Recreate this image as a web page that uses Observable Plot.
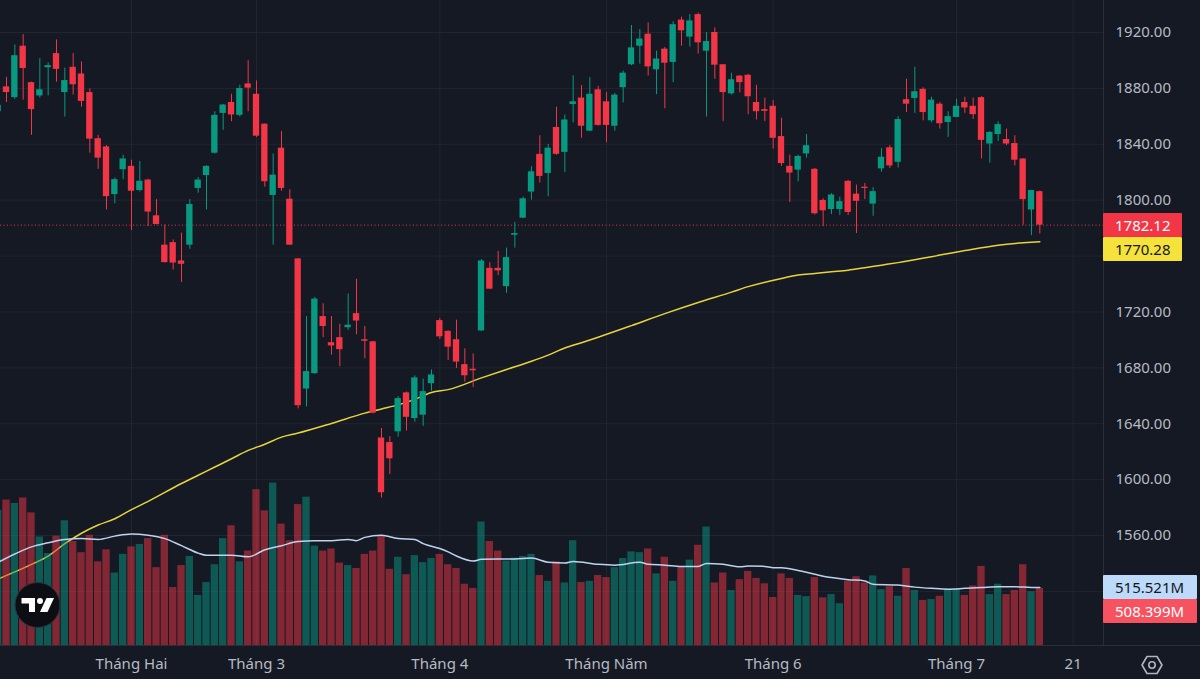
<!DOCTYPE html>
<html>
<head>
<meta charset="utf-8">
<script src="https://cdn.jsdelivr.net/npm/d3@7"></script>
<script src="https://cdn.jsdelivr.net/npm/@observablehq/plot@0.6"></script>
<style>
  html, body { margin: 0; padding: 0; background: #151924; }
  #chart { position: relative; width: 1200px; height: 679px; overflow: hidden; background: #151924; font-family: "Noto Sans", "Open Sans", sans-serif; }
  #chart > svg, #chart > .layer { position: absolute; left: 0; top: 0; }
  .sep-h { position: absolute; left: 0; top: 645px; width: 1200px; height: 1px; background: #2a2e39; }
  .sep-v { position: absolute; left: 1103px; top: 0; width: 1px; height: 645px; background: #2a2e39; }
  .tag { position: absolute; left: 1103px; height: 24px; line-height: 24px; font-size: 15px; padding-left: 12px; box-sizing: border-box; border-radius: 1px; }
</style>
</head>
<body>
<div id="chart"></div>
<script>
// Daily OHLC candles (trading-day index 0..125) and traded volume in millions.
const open = [1863.3,1881.1,1873.4,1910.2,1884.1,1874.6,1894.8,1904.9,1877.0,1895.1,1890.3,1877.0,1844.0,1838.1,1804.0,1821.8,1824.2,1806.9,1814.4,1788.8,
  1767.8,1769.6,1756.5,1767.8,1808.4,1817.6,1833.6,1862.1,1869.9,1860.7,1883.2,1875.8,1854.4,1803.4,1837.2,1800.7,1758.0,1664.8,1675.8,1716.7,
  1698.0,1701.6,1708.7,1718.8,1700.1,1698.6,1629.8,1626.5,1634.2,1662.1,1643.7,1646.1,1668.7,1713.8,1706.1,1700.1,1682.3,1679.0,1706.4,1751.2,
  1751.2,1738.1,1774.9,1787.1,1805.8,1832.8,1819.1,1852.0,1834.2,1868.4,1873.1,1849.4,1879.0,1870.4,1852.9,1880.5,1896.9,1910.2,1918.8,1893.3,
  1908.1,1898.6,1928.9,1916.7,1932.8,1906.6,1920.0,1896.9,1876.1,1888.8,1889.4,1869.9,1864.8,1867.2,1845.5,1824.2,1821.5,1833.1,1822.1,1799.8,
  1793.3,1793.3,1813.5,1804.3,1809.3,1797.2,1822.4,1837.5,1827.1,1871.9,1872.8,1879.3,1856.8,1868.7,1855.6,1859.2,1869.9,1867.2,1873.4,1840.2,
  1847.0,1843.4,1840.5,1829.5,1793.0,1806.1];
const high = [1869.0,1888.0,1911.1,1918.5,1884.5,1901.3,1898.3,1914.7,1894.5,1904.9,1898.9,1879.6,1846.4,1839.0,1815.8,1832.2,1828.6,1827.7,1815.0,1800.4,
  1782.3,1771.6,1776.4,1800.4,1816.1,1824.5,1863.3,1868.5,1875.8,1882.3,1899.8,1885.3,1854.5,1833.1,1849.1,1807.5,1758.2,1716.7,1730.4,1725.9,
  1716.7,1711.2,1732.8,1743.4,1709.6,1699.0,1636.6,1630.7,1659.5,1662.7,1674.3,1671.9,1678.5,1715.3,1706.5,1714.1,1693.6,1690.0,1757.4,1755.3,
  1763.3,1765.7,1784.1,1802.2,1823.9,1846.1,1839.9,1866.6,1860.9,1889.1,1882.0,1887.7,1881.4,1877.0,1876.4,1892.4,1925.0,1922.1,1926.8,1906.6,
  1909.3,1927.7,1931.0,1932.8,1933.9,1920.0,1923.3,1897.0,1890.9,1889.0,1890.0,1882.3,1873.1,1871.3,1858.6,1832.2,1832.2,1847.0,1822.7,1801.0,
  1804.6,1802.2,1814.1,1810.8,1812.0,1809.0,1836.9,1839.0,1859.8,1886.5,1895.1,1880.5,1873.7,1869.9,1863.3,1872.2,1873.7,1873.1,1874.0,1849.1,
  1856.2,1850.9,1846.1,1829.6,1807.0,1806.5];
const low = [1862.0,1869.9,1872.2,1871.6,1846.4,1873.1,1874.6,1884.4,1859.5,1875.2,1866.6,1833.6,1822.1,1793.0,1797.4,1814.7,1778.2,1805.8,1781.1,1782.3,
  1755.0,1750.0,1741.1,1764.8,1804.9,1793.0,1833.0,1850.0,1856.2,1859.5,1863.3,1844.9,1809.3,1767.8,1806.4,1767.5,1650.6,1652.0,1675.5,1701.6,
  1689.1,1680.8,1706.9,1703.7,1686.5,1647.0,1586.8,1603.7,1630.4,1634.8,1641.1,1638.1,1663.3,1700.4,1685.3,1679.6,1669.8,1666.0,1706.0,1736.0,
  1746.1,1733.4,1765.7,1787.0,1800.1,1812.3,1802.5,1832.2,1819.7,1855.3,1844.3,1849.0,1853.0,1841.1,1849.4,1869.6,1896.3,1897.4,1888.8,1875.5,
  1865.4,1884.1,1910.2,1909.6,1904.6,1859.5,1886.5,1856.2,1875.2,1876.7,1861.2,1857.4,1856.2,1836.6,1824.2,1798.3,1813.2,1830.1,1789.4,1781.1,
  1789.7,1789.1,1789.1,1776.1,1800.4,1788.5,1820.0,1822.7,1823.0,1862.7,1862.1,1856.8,1855.3,1850.9,1844.9,1859.0,1862.1,1857.7,1829.5,1826.5,
  1842.0,1839.0,1824.5,1782.0,1774.6,1775.8];
const close = [1867.8,1877.0,1903.4,1894.2,1864.8,1879.0,1896.3,1893.6,1885.6,1882.6,1870.7,1843.7,1830.1,1802.5,1814.7,1829.5,1806.4,1813.5,1791.5,1782.6,
  1755.3,1755.0,1754.1,1796.9,1814.4,1824.2,1860.7,1868.1,1861.0,1879.9,1880.2,1845.8,1813.2,1817.9,1808.4,1767.8,1652.9,1677.3,1729.2,1709.6,
  1695.7,1693.0,1710.5,1713.5,1699.0,1647.6,1590.6,1614.9,1658.0,1644.6,1672.8,1663.0,1674.9,1702.2,1694.8,1684.1,1674.3,1677.9,1756.5,1736.3,
  1749.4,1758.9,1776.1,1801.0,1820.3,1817.0,1837.2,1832.8,1857.4,1870.4,1852.9,1875.8,1853.5,1853.5,1875.2,1890.9,1909.0,1915.3,1895.4,1901.0,
  1898.0,1925.6,1921.2,1928.3,1912.6,1913.5,1896.6,1877.0,1886.2,1884.1,1874.0,1863.3,1863.6,1844.3,1826.2,1819.4,1831.3,1839.0,1790.3,1792.4,
  1803.7,1798.9,1791.2,1799.2,1808.4,1806.1,1830.7,1824.5,1857.7,1868.7,1877.6,1862.7,1871.6,1854.7,1859.8,1867.2,1866.0,1861.2,1842.8,1848.5,
  1854.1,1840.2,1828.6,1800.4,1806.9,1782.12];
const volume = [1194.5,1285.9,1256.6,1304.1,1172.6,960.7,814.6,968.0,1103.2,920.6,821.9,975.4,741.6,847.5,642.9,807.3,873.1,895.0,946.1,690.4,
  975.4,515.1,708.7,789.0,445.7,558.9,716.0,946.1,1059.4,741.6,836.5,1377.2,1190.9,1435.6,1074.0,927.9,1245.7,1311.4,880.4,836.5,
  854.8,730.6,708.7,683.1,807.3,836.5,975.4,675.8,781.7,628.3,796.4,734.3,770.8,807.3,716.0,683.1,544.3,507.8,1092.2,920.6,
  836.5,748.9,774.4,789.0,807.3,621.0,569.9,741.6,555.3,927.9,558.9,569.9,621.0,602.7,690.4,770.8,829.2,821.9,854.8,635.6,
  781.7,569.9,694.1,756.2,887.7,1048.4,555.3,642.9,489.5,584.5,657.5,595.4,548.0,427.4,635.6,595.4,445.7,434.7,602.7,423.7,
  453.0,372.6,569.9,610.1,555.3,617.4,496.8,522.4,438.4,683.1,489.5,401.8,409.1,438.4,500.5,500.5,445.7,529.7,701.4,453.0,
  544.3,453.0,489.5,716.0,478.5,508.399];

// Long-term price moving average and 20-day volume average, [day index, value].
const priceMA = [[0,1528.9],[4,1539.3],[6,1545.3],[8,1554.1],[10,1561.6],[12,1567.5],[14,1572.0],[16,1578.5],[18,1584.4],[22,1597.2],
  [24,1603.1],[26,1609.0],[28,1614.9],[30,1620.9],[32,1625.3],[34,1630.4],[36,1633.3],[40,1640.2],[44,1647.6],[46,1650.6],
  [48,1653.5],[50,1657.4],[52,1662.4],[54,1664.4],[58,1672.8],[61,1678.8],[64,1684.7],[66,1689.1],[68,1694.2],[70,1698.0],
  [72,1701.9],[76,1710.2],[80,1718.8],[84,1726.8],[88,1734.2],[90,1738.1],[94,1744.0],[96,1746.4],[98,1747.6],[100,1748.8],
  [102,1749.9],[104,1751.7],[106,1753.5],[108,1755.3],[112,1759.5],[116,1763.9],[120,1767.8],[125,1770.28]];
const volumeMA = [[0,737.9],[2,811.0],[4,873.1],[6,909.6],[8,938.8],[10,946.1],[12,938.8],[14,968.0],[16,986.3],[18,975.4],
  [20,946.1],[22,884.0],[24,818.3],[25,800.0],[28,800.0],[30,785.4],[32,847.5],[34,884.0],[36,920.6],[38,927.9],
  [40,927.9],[42,938.8],[43,927.9],[44,957.1],[46,975.4],[48,946.1],[50,938.8],[51,902.3],[53,858.5],[54,829.2],
  [55,792.7],[57,748.9],[58,763.5],[60,767.1],[62,767.1],[64,774.4],[66,737.9],[68,730.6],[69,745.2],[72,719.6],
  [74,712.3],[77,737.9],[78,719.6],[80,712.3],[82,701.4],[84,701.4],[85,726.9],[87,719.6],[89,697.7],[90,705.0],
  [92,701.4],[93,690.4],[94,690.4],[96,664.8],[98,632.0],[100,602.7],[102,584.5],[104,573.5],[105,544.3],[108,537.0],
  [110,518.7],[112,507.8],[114,500.5],[116,507.8],[118,515.1],[120,522.4],[122,522.4],[124,515.1],[125,515.521]];

// Axis ticks: labelled price levels (1760 sits under the last-value tags),
// grid levels, and the first trading day of each month.
const priceTicks = [1560, 1600, 1640, 1680, 1720, 1800, 1840, 1880, 1920];
const gridPrices = [1520, 1560, 1600, 1640, 1680, 1720, 1760, 1800, 1840, 1880, 1920];
const monthStarts = [16, 31, 53, 73, 93, 115, 129];
const monthLabels = ["Tháng Hai", "Tháng 3", "Tháng 4", "Tháng Năm", "Tháng 6", "Tháng 7", "21"];

const lastPrice = close[close.length - 1];
const lastVolume = volume[volume.length - 1];
const lastPriceMA = priceMA[priceMA.length - 1][1];
const lastVolumeMA = volumeMA[volumeMA.length - 1][1];

const UP = "#089981", DOWN = "#f23645";
const candles = open.map((o, i) => ({
  i, open: o, high: high[i], low: low[i], close: close[i], volume: volume[i], up: close[i] >= o
}));
const labelOf = new Map(monthStarts.map((d, k) => [d, monthLabels[k]]));

const frame = {
  width: 1200, height: 679,
  marginTop: 0, marginLeft: 0, marginRight: 97, marginBottom: 34
};
const xScale = {type: "linear", domain: [0, 125], range: [-2.33, 1039.33]};
const font = '"Noto Sans", "Open Sans", sans-serif';

const pricePlot = Plot.plot({
  ...frame,
  style: {background: "transparent", color: "#b8bbc3", fontFamily: font, fontSize: "15px"},
  x: {...xScale},
  y: {domain: [1560, 1920], range: [535, 32]},
  color: {type: "identity"},
  marks: [
    Plot.ruleY(gridPrices, {stroke: "#212530"}),
    Plot.ruleX(monthStarts, {stroke: "#212530"}),
    Plot.line(priceMA, {x: d => d[0], y: d => d[1], stroke: "#e8d43a", strokeWidth: 1.5, curve: "monotone-x"}),
    Plot.ruleY([lastPrice], {stroke: DOWN, strokeDasharray: "1,2.5", strokeWidth: 1}),
    Plot.ruleX(candles, {x: "i", y1: "low", y2: "high", stroke: d => d.up ? UP : DOWN, strokeWidth: 1}),
    Plot.rect(candles, {
      x1: d => d.i - 0.38, x2: d => d.i + 0.38,
      y1: d => Math.min(d.open, d.close), y2: d => Math.max(d.open, d.close),
      fill: d => d.up ? UP : DOWN
    }),
    Plot.axisY(priceTicks, {anchor: "right", tickSize: 0, tickPadding: 12, label: null, tickFormat: d => d.toFixed(2), fontSize: 15}),
    Plot.axisX(monthStarts, {anchor: "bottom", tickSize: 0, tickPadding: 13, label: null, tickFormat: d => labelOf.get(d), fontSize: 15})
  ]
});

const volumePlot = Plot.plot({
  ...frame,
  style: {background: "transparent"},
  x: {...xScale, axis: null},
  y: {domain: [0, 1000], range: [645.5, 532], axis: null},
  color: {type: "identity"},
  marks: [
    Plot.rect(candles, {
      x1: d => d.i - 0.44, x2: d => d.i + 0.44, y1: 0, y2: "volume",
      fill: d => d.up ? "rgba(8,153,129,0.5)" : "rgba(242,54,69,0.5)"
    }),
    Plot.line(volumeMA, {x: d => d[0], y: d => d[1], stroke: "#bcd3ee", strokeWidth: 1.5, curve: "monotone-x"})
  ]
});

const chart = document.getElementById("chart");
chart.append(pricePlot, volumePlot);

// Separators between the plotting area and the axes.
for (const cls of ["sep-h", "sep-v"]) {
  const d = document.createElement("div");
  d.className = cls;
  chart.append(d);
}

// Last-value tags on the right axis, positioned from the plots' own scales.
function tag(text, top, bg, fg, width) {
  const el = document.createElement("div");
  el.className = "tag";
  el.textContent = text;
  el.style.top = top + "px";
  el.style.background = bg;
  el.style.color = fg;
  el.style.width = width + "px";
  chart.append(el);
  return el;
}
const py = pricePlot.scale("y");
const vy = volumePlot.scale("y");
const priceTop = Math.round(py.apply(lastPrice) - 12);
tag(lastPrice.toFixed(2), priceTop, "#f23645", "#ffffff", 79);
tag(lastPriceMA.toFixed(2), Math.max(priceTop + 24, Math.round(py.apply(lastPriceMA) - 12)), "#f5e23a", "#131722", 79);
const volTop = Math.round(vy.apply(lastVolumeMA) - 12);
tag(lastVolumeMA.toFixed(3) + "M", volTop, "#bddafb", "#131722", 94);
tag(lastVolume.toFixed(3) + "M", volTop + 24, "#f7525f", "#ffffff", 94);

// Logo badge and settings glyph.
const deco = document.createElementNS("http://www.w3.org/2000/svg", "svg");
deco.setAttribute("class", "layer");
deco.setAttribute("width", 1200);
deco.setAttribute("height", 679);
deco.innerHTML = `
  <circle cx="37.5" cy="605" r="22.5" fill="#0c0e14" stroke="#2e3240" stroke-width="1"/>
  <g transform="translate(21.5,598)" fill="#ffffff">
    <path d="M0,0 H13.5 V14 H7.5 V5.5 H0 Z"/>
    <circle cx="18.5" cy="3" r="3"/>
    <path d="M25,0 H32.5 L26,14 H18.5 Z"/>
  </g>
  <g transform="translate(1152,665)" fill="none" stroke="#b2b5be" stroke-width="1.6" stroke-linejoin="round">
    <path d="M-10,0 L-5,-8.5 L5,-8.5 L10,0 L5,8.5 L-5,8.5 Z"/>
    <circle cx="0" cy="0" r="3.2"/>
  </g>`;
chart.append(deco);
</script>
</body>
</html>
